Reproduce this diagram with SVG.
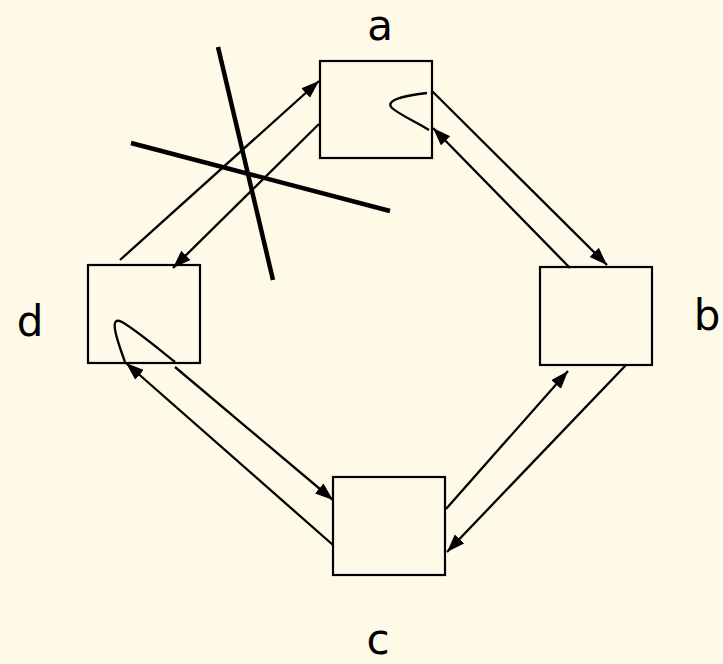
<svg xmlns="http://www.w3.org/2000/svg" width="723" height="664" viewBox="0 0 723 664">
<style>
.box{fill:#FFF9E8;stroke:#000;stroke-width:2.2}
.lbl{font-family:"DejaVu Sans",sans-serif;font-size:42px;fill:#000;text-anchor:middle}
.ed{stroke:#000;stroke-width:2.3;fill:none}
.arr{marker-end:url(#ah)}
.x{stroke:#000;stroke-width:4.5;fill:none}
</style>
<defs>
<marker id="ah" markerUnits="userSpaceOnUse" markerWidth="19" markerHeight="14" refX="18" refY="6.5" orient="auto">
<path d="M0,0 L18,6.5 L0,13 z" fill="#000"/>
</marker>
</defs>
<rect width="723" height="664" fill="#FFF9E8"/>
<g id="node-a"><rect class="box" x="320" y="61" width="112" height="97"/><text class="lbl" x="380" y="40">a</text></g>
<g id="node-b"><rect class="box" x="540" y="267" width="112" height="98"/><text class="lbl" x="707" y="330">b</text></g>
<g id="node-c"><rect class="box" x="333" y="477" width="112" height="98"/><text class="lbl" x="378" y="654">c</text></g>
<g id="node-d"><rect class="box" x="88" y="265" width="112" height="98"/><text class="lbl" x="30" y="336">d</text></g>
<g id="connectors">
<line class="ed arr" x1="432" y1="91" x2="607" y2="265"/>
<line class="ed arr" x1="570" y1="268" x2="433" y2="128"/>
<line class="ed arr" x1="626" y1="365" x2="447" y2="552"/>
<line class="ed arr" x1="446" y1="509" x2="568" y2="371"/>
<line class="ed arr" x1="175" y1="367" x2="333" y2="500"/>
<line class="ed arr" x1="333" y1="545" x2="126" y2="363"/>
<line class="ed arr" x1="120" y1="260" x2="319" y2="81"/>
<line class="ed arr" x1="319" y1="124" x2="173" y2="268"/>
<path class="ed" d="M427,93 C400,96 385,101 392,108 C400,115 418,123 429,130"/>
<path class="ed" d="M125,362 C114,332 110,316 122,322 C136,330 160,350 175,362"/>
</g>
<g id="cross">
<line class="x" x1="218" y1="47" x2="273" y2="280"/>
<line class="x" x1="131" y1="143" x2="390" y2="211"/>
</g>
</svg>
